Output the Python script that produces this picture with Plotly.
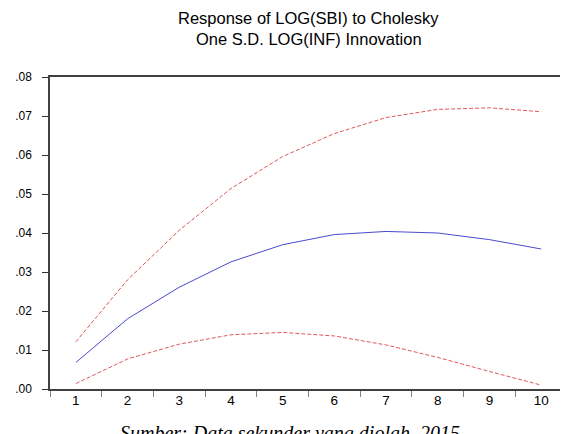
import plotly.graph_objects as go

periods = ["1", "2", "3", "4", "5", "6", "7", "8", "9", "10"]
response = [0.0068, 0.0180, 0.0261, 0.0326, 0.0370, 0.0396, 0.0404, 0.0400, 0.0383, 0.0359]
upper_band = [0.0121, 0.0280, 0.0407, 0.0514, 0.0596, 0.0655, 0.0696, 0.0717, 0.0721, 0.0711]
lower_band = [0.0014, 0.0077, 0.0115, 0.0139, 0.0145, 0.0136, 0.0113, 0.0081, 0.0045, 0.0010]
y_ticks = [0.00, 0.01, 0.02, 0.03, 0.04, 0.05, 0.06, 0.07, 0.08]
y_ticktext = [".00", ".01", ".02", ".03", ".04", ".05", ".06", ".07", ".08"]

title_lines = ["Response of LOG(SBI) to Cholesky", "One S.D. LOG(INF) Innovation"]
caption = "Sumber: Data sekunder yang diolah, 2015"

red = "#e0585a"
blue = "#4a4ad0"

fig = go.Figure()
fig.add_trace(go.Scatter(x=periods, y=upper_band, mode="lines",
                         line=dict(color=red, width=1, dash="4px,2px"), hoverinfo="skip"))
fig.add_trace(go.Scatter(x=periods, y=lower_band, mode="lines",
                         line=dict(color=red, width=1, dash="4px,2px"), hoverinfo="skip"))
fig.add_trace(go.Scatter(x=periods, y=response, mode="lines",
                         line=dict(color=blue, width=1), hoverinfo="skip"))

fig.update_layout(
    width=568, height=434,
    margin=dict(l=41, r=7, t=69, b=53),
    paper_bgcolor="white", plot_bgcolor="white",
    showlegend=False,
    font=dict(family="Liberation Sans, Arial, sans-serif", color="black", size=12),
    xaxis=dict(type="category", range=[-0.5, 9.5], tickson="boundaries",
               ticks="outside", ticklen=6, tickcolor="#808080", tickwidth=1,
               showline=True, linecolor="#404040", linewidth=1.5, mirror=True,
               showgrid=False, zeroline=False, tickfont=dict(size=13.5),
               ticklabelstandoff=-2),
    yaxis=dict(range=[0, 0.08], tickvals=y_ticks, ticktext=y_ticktext,
               ticks="outside", ticklen=6, tickcolor="#303030", tickwidth=1.2,
               showline=True, linecolor="#404040", linewidth=1.5, mirror=True,
               showgrid=False, zeroline=False, tickfont=dict(size=12),
               ticklabelstandoff=8),
)

fig.add_annotation(text=title_lines[0], xref="paper", yref="paper", x=0.5, y=1.0,
                   yshift=70, showarrow=False, font=dict(size=16.5))
fig.add_annotation(text=title_lines[1], xref="paper", yref="paper", x=0.5, y=1.0,
                   yshift=49, showarrow=False, font=dict(size=16.5))
fig.add_annotation(text="<i>" + caption + "</i>", xref="paper", yref="paper", x=0.475, y=0.0,
                   yshift=-58, xshift=-6, showarrow=False,
                   font=dict(size=20, family="Liberation Serif, Times New Roman, serif"))

fig.write_html("out.html")
